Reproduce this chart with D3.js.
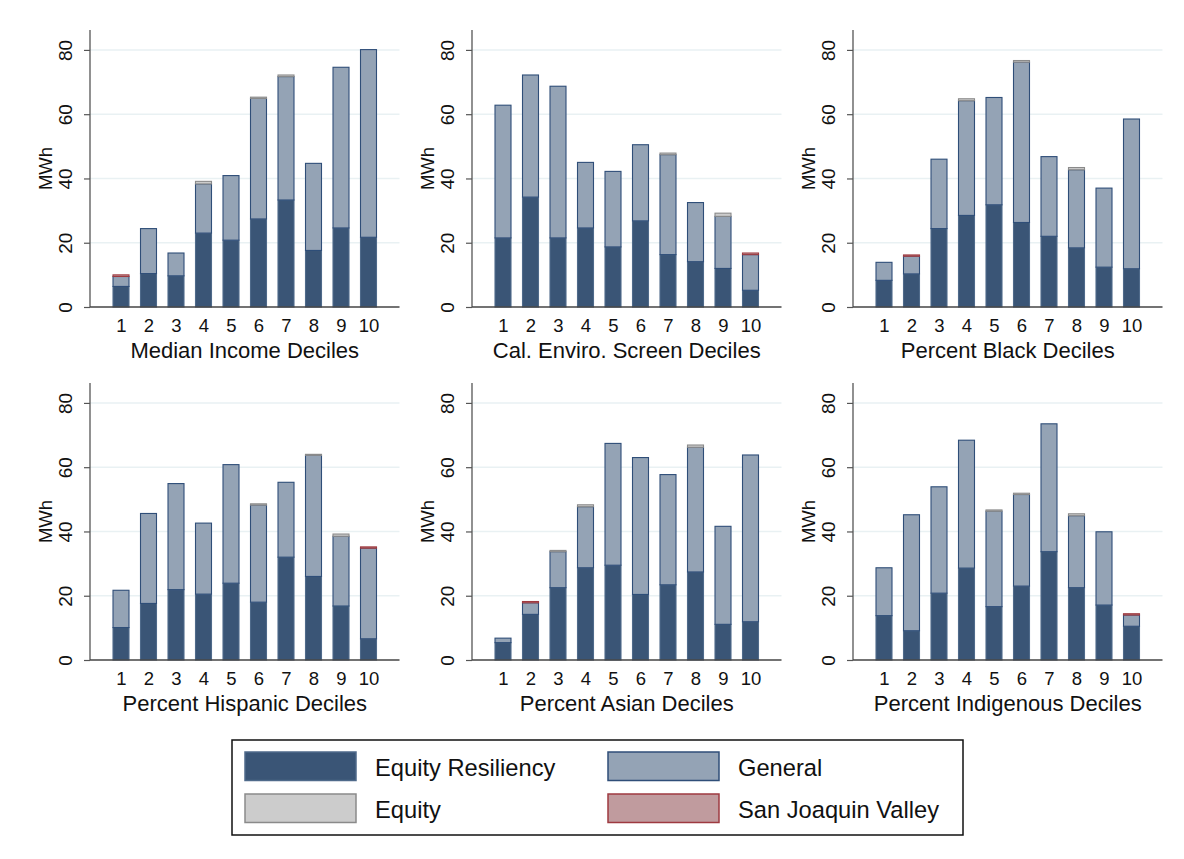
<!DOCTYPE html>
<html>
<head>
<meta charset="utf-8">
<script src="https://cdn.jsdelivr.net/npm/d3@7"></script>
<style>
  html, body { margin: 0; padding: 0; background: #ffffff; }
  svg { display: block; font-family: "Liberation Sans", Arial, Helvetica, sans-serif; }
</style>
</head>
<body>
<svg id="chart" width="1184" height="859"></svg>
<script>
// ---------------- DATA ----------------
const categories = [1, 2, 3, 4, 5, 6, 7, 8, 9, 10];
const yTicks = [0, 20, 40, 60, 80];
const panelTitles = [
  "Median Income Deciles",
  "Cal. Enviro. Screen Deciles",
  "Percent Black Deciles",
  "Percent Hispanic Deciles",
  "Percent Asian Deciles",
  "Percent Indigenous Deciles"
];
const seriesNames = ["Equity Resiliency", "General", "Equity", "San Joaquin Valley"];

// segment values (MWh), one row per panel, one entry per decile
const equityResiliency = [
  [6.4, 10.4, 9.7, 23.0, 20.8, 27.4, 33.3, 17.6, 24.6, 21.7],
  [21.5, 34.2, 21.5, 24.6, 18.7, 26.8, 16.3, 14.1, 12.0, 5.2],
  [8.3, 10.3, 24.4, 28.5, 31.8, 26.3, 22.0, 18.4, 12.4, 11.9],
  [10.1, 17.6, 21.9, 20.5, 23.9, 18.0, 32.0, 26.0, 16.8, 6.6],
  [5.4, 14.2, 22.5, 28.7, 29.5, 20.4, 23.4, 27.4, 11.1, 11.9],
  [13.8, 9.1, 20.8, 28.6, 16.6, 23.0, 33.7, 22.5, 17.1, 10.5]
];
const general = [
  [3.1, 14.0, 7.1, 15.3, 20.1, 37.5, 38.4, 27.1, 50.0, 58.4],
  [41.3, 38.0, 47.2, 20.4, 23.5, 23.7, 31.1, 18.4, 16.2, 11.1],
  [5.6, 5.5, 21.6, 35.7, 33.4, 49.9, 24.8, 24.3, 24.6, 46.6],
  [11.6, 28.0, 33.0, 22.1, 36.9, 30.2, 23.3, 37.7, 21.7, 28.2],
  [1.4, 3.6, 11.2, 19.0, 37.9, 42.6, 34.3, 38.8, 30.5, 51.9],
  [14.9, 36.1, 33.1, 39.8, 29.7, 28.5, 39.8, 22.4, 22.8, 3.5]
];
const equity = [
  [0, 0, 0, 0.8, 0, 0.4, 0.5, 0, 0, 0],
  [0, 0, 0, 0, 0, 0, 0.5, 0, 1.0, 0],
  [0, 0, 0, 0.6, 0, 0.5, 0, 0.7, 0, 0],
  [0, 0, 0, 0, 0, 0.4, 0, 0.3, 0.7, 0],
  [0, 0, 0.4, 0.6, 0, 0, 0, 0.7, 0, 0],
  [0, 0, 0, 0, 0.4, 0.4, 0, 0.6, 0, 0]
];
const sanJoaquinValley = [
  [0.5, 0, 0, 0, 0, 0, 0, 0, 0, 0],
  [0, 0, 0, 0, 0, 0, 0, 0, 0, 0.5],
  [0, 0.4, 0, 0, 0, 0, 0, 0, 0, 0],
  [0, 0, 0, 0, 0, 0, 0, 0, 0, 0.4],
  [0, 0.4, 0, 0, 0, 0, 0, 0, 0, 0],
  [0, 0, 0, 0, 0, 0, 0, 0, 0, 0.4]
];

// ---------------- STYLE ----------------
const fills   = ["#3a5576", "#94a3b5", "#cccccc", "#c09b9e"];
const strokes = ["#4f6a8a", "#2f4e78", "#8a8a8a", "#9e3a40"];

const svg = d3.select("#chart");

const axisX = [90, 472, 853];
const zeroY = [307, 660];
const plotW = 309.5;
const plotH = 277;
const yMax = 86.2;

for (let p = 0; p < 6; p++) {
  const col = p % 3, row = Math.floor(p / 3);
  const ax = axisX[col], zy = zeroY[row];
  const g = svg.append("g");

  const x = d3.scaleLinear()
    .domain([1 - 31 / 27.5, 10 + 31 / 27.5])
    .range([ax, ax + plotW]);
  const y = d3.scaleLinear().domain([0, yMax]).range([zy, zy - plotH]);

  // gridlines
  g.selectAll(".grid").data(yTicks.filter(t => t > 0)).enter().append("line")
    .attr("x1", ax).attr("x2", ax + plotW)
    .attr("y1", d => y(d)).attr("y2", d => y(d))
    .attr("stroke", "#e9f1f3").attr("stroke-width", 1.5);

  // stacked bars
  const series = [equityResiliency[p], general[p], equity[p], sanJoaquinValley[p]];
  const bw = 16;
  categories.forEach((c, i) => {
    let base = 0;
    series.forEach((s, k) => {
      const v = s[i];
      if (v > 0) {
        const y0 = y(base), y1 = y(base + v);
        g.append("rect")
          .attr("x", x(c) - bw / 2)
          .attr("y", y1)
          .attr("width", bw)
          .attr("height", Math.max(0.1, y0 - y1))
          .attr("fill", fills[k])
          .attr("stroke", strokes[k])
          .attr("stroke-width", 1.1);
      }
      base += v;
    });
  });

  // y axis
  const yAxis = d3.axisLeft(y).tickValues(yTicks).tickSize(6).tickPadding(4).tickFormat(d3.format("d"));
  const yg = g.append("g").attr("transform", `translate(${ax},0)`).call(yAxis);
  yg.select(".domain").remove();
  yg.selectAll(".tick line").attr("stroke", "#555").attr("stroke-width", 1.2);
  yg.selectAll(".tick text")
    .attr("x", null).attr("dy", null)
    .attr("transform", "translate(-18,0) rotate(-90)")
    .attr("text-anchor", "middle")
    .attr("font-size", 19)
    .attr("fill", "#111");
  g.append("line")
    .attr("x1", ax).attr("x2", ax)
    .attr("y1", zy - plotH).attr("y2", zy)
    .attr("stroke", "#555").attr("stroke-width", 1.3);

  // x axis baseline + labels
  g.append("line")
    .attr("x1", ax).attr("x2", ax + plotW)
    .attr("y1", zy).attr("y2", zy)
    .attr("stroke", "#444").attr("stroke-width", 1.3);
  const xAxis = d3.axisBottom(x).tickValues(categories).tickSize(0).tickPadding(0).tickFormat(d3.format("d"));
  const xg = g.append("g").attr("transform", `translate(0,${zy})`).call(xAxis);
  xg.select(".domain").remove();
  xg.selectAll(".tick text")
    .attr("y", 25).attr("dy", null)
    .attr("font-size", 18.5).attr("fill", "#111");

  // axis titles
  g.append("text")
    .attr("x", ax + plotW / 2).attr("y", zy + 51)
    .attr("text-anchor", "middle")
    .attr("font-size", 22).attr("fill", "#111")
    .text(panelTitles[p]);
  g.append("text")
    .attr("transform", `translate(${ax - 38},${zy - plotH / 2}) rotate(-90)`)
    .attr("text-anchor", "middle")
    .attr("font-size", 18.5).attr("fill", "#111")
    .text("MWh");
}

// ---------------- LEGEND ----------------
const lg = svg.append("g");
lg.append("rect")
  .attr("x", 232).attr("y", 740).attr("width", 731).attr("height", 95)
  .attr("fill", "#fff").attr("stroke", "#111").attr("stroke-width", 1.5);
const legendPos = [
  { sx: 245, sy: 752, tx: 375, ty: 776 },
  { sx: 608, sy: 752, tx: 738, ty: 776 },
  { sx: 245, sy: 794, tx: 375, ty: 818 },
  { sx: 608, sy: 794, tx: 738, ty: 818 }
];
seriesNames.forEach((name, k) => {
  const pos = legendPos[k];
  lg.append("rect")
    .attr("x", pos.sx).attr("y", pos.sy).attr("width", 111).attr("height", 28.5)
    .attr("fill", fills[k]).attr("stroke", strokes[k]).attr("stroke-width", 1.5);
  lg.append("text")
    .attr("x", pos.tx).attr("y", pos.ty)
    .attr("font-size", 23.7).attr("fill", "#111")
    .text(name);
});
</script>
</body>
</html>
